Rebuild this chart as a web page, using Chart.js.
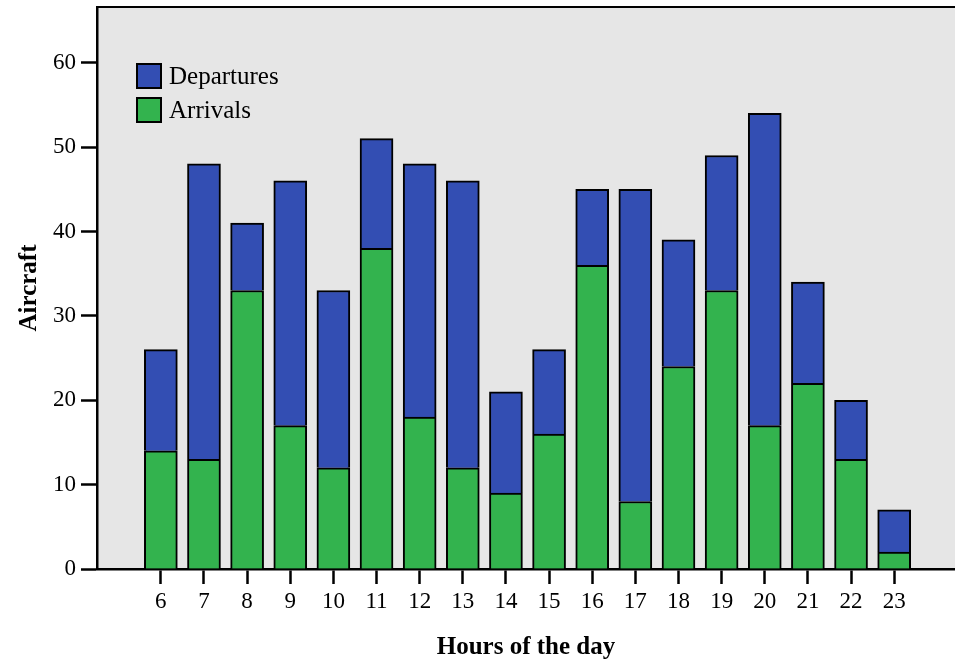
<!DOCTYPE html>
<html>
<head>
<meta charset="utf-8">
<script src="https://cdn.jsdelivr.net/npm/chart.js@4"></script>
<style>
  html, body { margin: 0; padding: 0; background: #fff; }
  #wrap { position: relative; width: 955px; height: 665px; }
  #legend { position: absolute; left: 136px; top: 59px; font-family: "Liberation Serif", serif; font-size: 25px; color: #000; }
  #legend .row { display: flex; align-items: center; height: 34px; }
  #legend .box { width: 22px; height: 22px; border: 2px solid #000; margin-right: 7px; }
</style>
</head>
<body>
<div id="wrap">
  <canvas id="c" width="955" height="665"></canvas>
  <div id="legend"></div>
</div>
<script>
/* ===== DATA ===== */
const hours = [6, 7, 8, 9, 10, 11, 12, 13, 14, 15, 16, 17, 18, 19, 20, 21, 22, 23];
const arrivals = [14, 13, 33, 17, 12, 38, 18, 12, 9, 16, 36, 8, 24, 33, 17, 22, 13, 2];
const departures = [12, 35, 8, 29, 21, 13, 30, 34, 12, 10, 9, 37, 15, 16, 37, 12, 7, 5];
const yTicks = [0, 10, 20, 30, 40, 50, 60];
/* ================ */

const BLUE = "#334eb3";
const GREEN = "#33b34e";
const SERIF = "'Liberation Serif', 'Times New Roman', serif";

// grey plot background + top frame line
const frame = {
  id: "frame",
  beforeDraw(chart) {
    const { ctx, chartArea: a } = chart;
    ctx.save();
    ctx.fillStyle = "#e6e6e6";
    ctx.fillRect(a.left, a.top, a.right - a.left, a.bottom - a.top);
    ctx.strokeStyle = "#000";
    ctx.lineWidth = 2;
    ctx.beginPath();
    ctx.moveTo(a.left, a.top);
    ctx.lineTo(a.right, a.top);
    ctx.stroke();
    ctx.restore();
  }
};

const chart = new Chart(document.getElementById("c"), {
  type: "bar",
  data: {
    datasets: [
      {
        label: "Arrivals",
        data: hours.map((h, i) => ({ x: h, y: arrivals[i] })),
        backgroundColor: GREEN,
        borderColor: "#000",
        borderWidth: 2,
        barThickness: 33
      },
      {
        label: "Departures",
        data: hours.map((h, i) => ({ x: h, y: departures[i] })),
        backgroundColor: BLUE,
        borderColor: "#000",
        borderWidth: 2,
        barThickness: 33
      }
    ]
  },
  options: {
    responsive: false,
    animation: false,
    layout: { padding: { top: 7, right: 0, left: 0, bottom: 0 } },
    plugins: { legend: { display: false }, tooltip: { enabled: false } },
    scales: {
      x: {
        type: "linear",
        stacked: true,
        offset: false,
        min: 4.52,
        max: 24.41,
        afterBuildTicks: (s) => { s.ticks = hours.map((v) => ({ value: v })); },
        afterFit: (s) => { s.height = 96; s.paddingLeft = 0; s.paddingRight = 0; },
        grid: { display: true, drawOnChartArea: false, offset: false, tickLength: 15, tickWidth: 2.5, tickColor: "#000" },
        border: { color: "#000", width: 2.5 },
        ticks: { color: "#000", font: { family: SERIF, size: 23 }, padding: 4, maxRotation: 0, autoSkip: false },
        title: { display: true, text: "Hours of the day", color: "#000", font: { family: SERIF, size: 25, weight: "bold" }, padding: { top: 0, bottom: 2 } }
      },
      y: {
        stacked: true,
        min: 0,
        max: 66.6,
        afterBuildTicks: (s) => { s.ticks = yTicks.map((v) => ({ value: v })); },
        afterFit: (s) => { s.width = 97; s.paddingTop = 0; s.paddingBottom = 0; },
        grid: { display: true, drawOnChartArea: false, tickLength: 16, tickWidth: 2.5, tickColor: "#000" },
        border: { color: "#000", width: 2.5 },
        ticks: { color: "#000", font: { family: SERIF, size: 23 }, padding: 5 },
        title: { display: true, text: "Aircraft", color: "#000", font: { family: SERIF, size: 25, weight: "bold" }, padding: { top: 15, bottom: 0 } }
      }
    }
  },
  plugins: [frame]
});

// legend: departures listed first
const leg = document.getElementById("legend");
[...chart.data.datasets].reverse().forEach((d) => {
  const row = document.createElement("div");
  row.className = "row";
  row.innerHTML = `<span class="box" style="background:${d.backgroundColor}"></span><span>${d.label}</span>`;
  leg.appendChild(row);
});
</script>
</body>
</html>
